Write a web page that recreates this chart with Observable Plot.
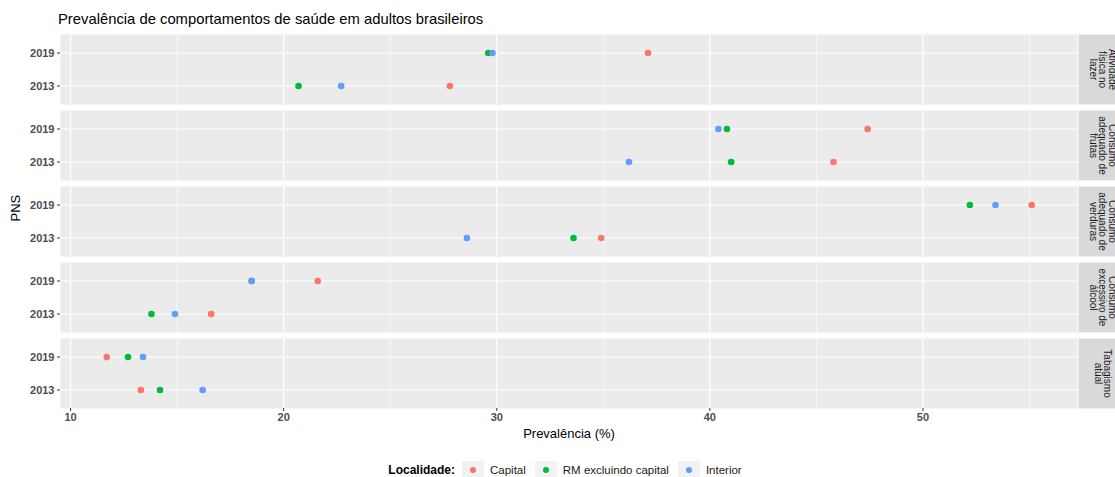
<!DOCTYPE html>
<html>
<head>
<meta charset="utf-8">
<script src="https://cdn.jsdelivr.net/npm/d3@7"></script>
<script src="https://cdn.jsdelivr.net/npm/@observablehq/plot@0.6"></script>
<style>
  html, body { margin: 0; padding: 0; background: #fff; }
  body { width: 1115px; height: 477px; overflow: hidden; position: relative;
         font-family: "Liberation Sans", Arial, Helvetica, sans-serif; }
  #title { position: absolute; left: 58px; top: 10px; font-size: 14.8px; color: #000; white-space: nowrap; line-height: 18px; }
  #chart { position: absolute; left: 0; top: 30px; }
  #legend { position: absolute; left: 11px; top: 461px; width: 1115px; height: 18px;
            display: flex; justify-content: center; align-items: center; font-size: 11.5px; color: #1a1a1a; }
  #legend .ttl { font-weight: bold; font-size: 12px; color: #000; margin-right: 5px; }
  #legend .key { width: 22px; height: 18px; background: #f2f2f2; display: flex; align-items: center; justify-content: center; margin: 0 6px 0 2px; }
  #legend .dot { width: 6px; height: 6px; border-radius: 50%; }
  #legend .lab { margin-right: 7px; }
</style>
</head>
<body>
<div id="title"></div>
<div id="chart"></div>
<div id="legend"></div>
<script>
// ---- data ----
const titleText = "Prevalência de comportamentos de saúde em adultos brasileiros";
const xLabel = "Prevalência (%)";
const yLabel = "PNS";
const legendTitle = "Localidade:";
const categories = [
  "Atividade física no lazer",
  "Consumo adequado de frutas",
  "Consumo adequado de verduras",
  "Consumo excessivo de álcool",
  "Tabagismo atual"
];
const stripLabels = [
  "Atividade\nfísica no\nlazer",
  "Consumo\nadequado de\nfrutas",
  "Consumo\nadequado de\nverduras",
  "Consumo\nexcessivo de\nálcool",
  "Tabagismo\natual"
];
const years = ["2019", "2013"];
const localidades = ["Capital", "RM excluindo capital", "Interior"];
const colors = ["#F8766D", "#00BA38", "#619CFF"];
const xTicks = [10, 20, 30, 40, 50];
const xMinor = [15, 25, 35, 45, 55];

// values per category (same order as categories)
const capital2013  = [27.8, 45.8, 34.9, 16.6, 13.3];
const capital2019  = [37.1, 47.4, 55.1, 21.6, 11.7];
const rm2013       = [20.7, 41.0, 33.6, 13.8, 14.2];
const rm2019       = [29.6, 40.8, 52.2, 18.5, 12.7];
const interior2013 = [22.7, 36.2, 28.6, 14.9, 16.2];
const interior2019 = [29.8, 40.4, 53.4, 18.5, 13.4];

const series = {
  "Capital": {"2013": capital2013, "2019": capital2019},
  "RM excluindo capital": {"2013": rm2013, "2019": rm2019},
  "Interior": {"2013": interior2013, "2019": interior2019}
};

const rows = [];
categories.forEach((c, i) => {
  years.forEach(y => {
    localidades.forEach(l => rows.push({cat: c, year: y, loc: l, value: series[l][y][i]}));
  });
});

// ---- title ----
document.getElementById("title").textContent = titleText;

// ---- chart ----
const font = "'Liberation Sans', Arial, Helvetica, sans-serif";
const W = 1115, mL = 60, mR = 38;
const chart = Plot.plot({
  width: W,
  height: 418,
  marginTop: 2.5,
  marginBottom: 39.5,
  marginLeft: mL,
  marginRight: mR,
  style: {fontFamily: font, fontSize: "11px", background: "transparent", overflow: "visible"},
  x: {domain: [9.53, 57.25]},
  y: {domain: years, padding: 0.56},
  fy: {domain: categories, paddingInner: 0.085, paddingOuter: 0, axis: null},
  color: {domain: localidades, range: colors},
  marks: [
    Plot.frame({fill: "#ebebeb", stroke: "none"}),
    Plot.frame({fill: "#d9d9d9", stroke: "none", insetLeft: W - mL - mR + 1, insetRight: -60}),
    Plot.gridX({ticks: xMinor, stroke: "white", strokeOpacity: 1, strokeWidth: 0.6}),
    Plot.gridX({ticks: xTicks, stroke: "white", strokeOpacity: 1, strokeWidth: 1.2}),
    Plot.gridY({stroke: "white", strokeOpacity: 1, strokeWidth: 1.2}),
    Plot.dot(rows, {x: "value", y: "year", fy: "cat", fill: "loc", r: 3.3, stroke: "none"}),
    Plot.axisY({tickSize: 3, tickPadding: 3, fontWeight: "bold", fontSize: 11, fill: "#4d4d4d", stroke: "#333", label: null}),
    Plot.axisX({ticks: xTicks, tickSize: 3, tickPadding: 2, fontWeight: "bold", fontSize: 11, fill: "#4d4d4d", stroke: "#333", label: null}),
    Plot.text(categories, {fy: d => d, text: (d, i) => stripLabels[i], frameAnchor: "right", dx: 25,
      rotate: 90, fontSize: 10, fill: "#1a1a1a", lineHeight: 0.95, textAnchor: "middle", lineAnchor: "middle"}),
    Plot.text([xLabel], {fy: [categories[4]], text: d => d, frameAnchor: "bottom", dy: 25.5,
      lineAnchor: "middle", fontSize: 13, fill: "#000"}),
    Plot.text([yLabel], {fy: [categories[2]], text: d => d, frameAnchor: "left", dx: -45,
      rotate: -90, lineAnchor: "middle", fontSize: 13, fill: "#000"})
  ]
});
document.getElementById("chart").appendChild(chart);

// ---- legend ----
const lg = document.getElementById("legend");
const t = document.createElement("span");
t.className = "ttl"; t.textContent = legendTitle; lg.appendChild(t);
localidades.forEach((l, i) => {
  const k = document.createElement("span"); k.className = "key";
  const d = document.createElement("span"); d.className = "dot"; d.style.background = colors[i];
  k.appendChild(d); lg.appendChild(k);
  const s = document.createElement("span"); s.className = "lab"; s.textContent = l; lg.appendChild(s);
});
</script>
</body>
</html>
